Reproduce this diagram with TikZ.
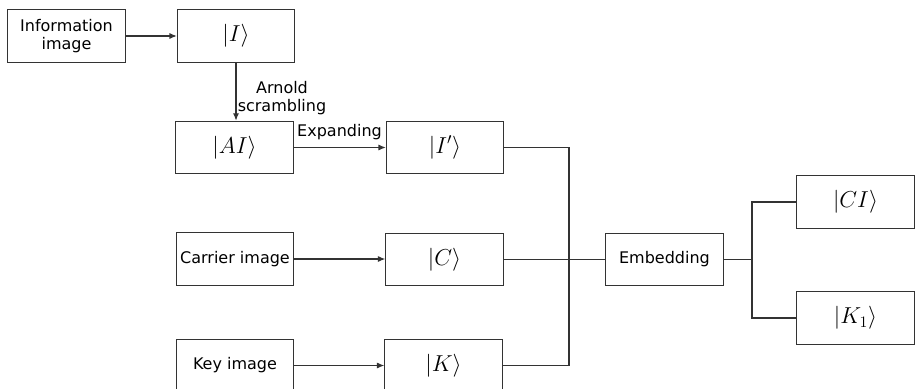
\documentclass[tikz,border=0pt]{standalone}
\usepackage{fontspec}
\setmainfont{DejaVu Sans}
\usetikzlibrary{arrows.meta}
\definecolor{ink}{HTML}{333333}
\tikzset{
  x=0.75pt, y=-0.75pt,
  blk/.style={draw=ink, line width=0.8pt, fill=white, inner sep=0pt,
    minimum width=88pt, minimum height=39.5pt, align=center,
    font=\fontsize{12}{14.5}\selectfont},
  ket/.style={blk, font=\fontsize{16.5}{18}\selectfont},
  wire/.style={draw=ink, line width=0.8pt},
  arr/.style={wire, -{Latex[length=5.5pt,width=4.5pt]}},
  lbl/.style={font=\fontsize{12}{14.5}\selectfont, align=center, inner sep=0pt},
}
\begin{document}
\begin{tikzpicture}
\useasboundingbox (0,0) rectangle (915,389);
\clip (0,0) rectangle (915,389);

% input column
\node[blk] (info) at (66.5,36) {Information\\[-1.5pt]image};
\node[blk] (carrier) at (235,259) {Carrier image};
\node[blk] (key) at (235,365.5) {Key image};

% quantum states
\node[ket] (I) at (236,36) {$|I\rangle$};
\node[ket] (AI) at (234.5,147.5) {$|AI\rangle$};
\node[ket] (Ip) at (445,147.5) {$|I'\rangle$};
\node[ket] (C) at (444.5,259.5) {$|C\rangle$};
\node[ket] (K) at (443.5,365.5) {$|K\rangle$};

% embedding and outputs
\node[blk] (emb) at (664.5,259.5) {Embedding};
\node[ket] (CI) at (855.5,202) {$|CI\rangle$};
\node[ket] (K1) at (855.5,318) {$|K_1\rangle$};

% bus junctions
\coordinate (busL) at (569,259.5);
\coordinate (busR) at (752,259.5);

% preparation arrows
\draw[arr] (info.east) -- (info.east -| I.west);
\draw[arr] (I.south) -- (I.south |- AI.north);
\node[lbl] at (282,98) {Arnold\\[-1.5pt]scrambling};
\draw[arr] (AI.east) -- (AI.east -| Ip.west);
\node[lbl, anchor=south] at (339.5,140) {Expanding};
\draw[arr] (carrier.east) -- (carrier.east -| C.west);
\draw[arr] (key.east) -- (key.east -| K.west);

% merging into the embedding step
\draw[wire] (Ip.east) -| (busL |- K.east) -- (K.east);
\draw[wire] (C.east) -- (emb.west);

% splitting into the outputs
\draw[wire] (emb.east) -- (busR);
\draw[wire] (CI.west) -| (busR |- K1.west) -- (K1.west);
\end{tikzpicture}
\end{document}
